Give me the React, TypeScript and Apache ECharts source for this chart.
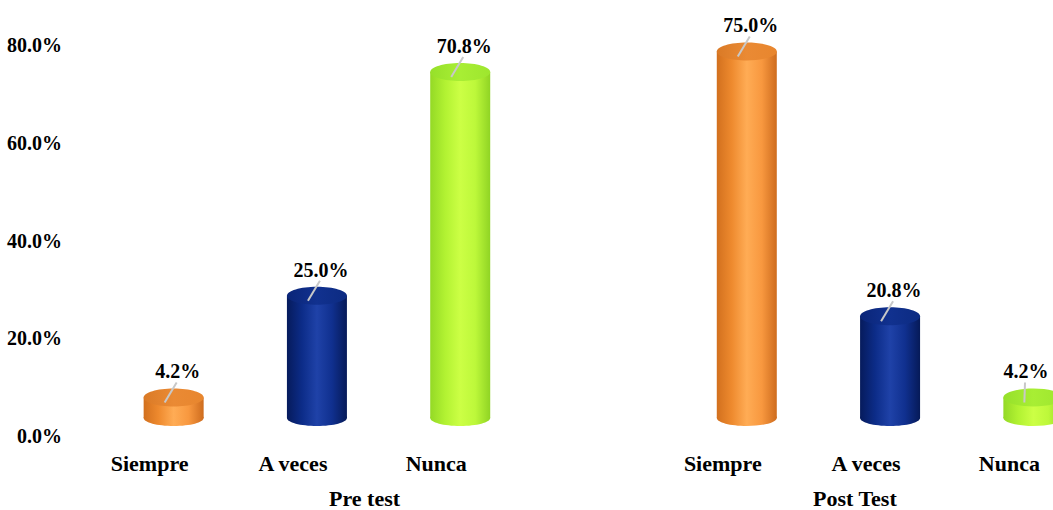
import React, { useEffect, useRef } from "react";
import * as echarts from "echarts";

const categories = ["Siempre", "A veces", "Nunca", "", "Siempre", "A veces", "Nunca"];
const groups = ["Pre test", "Post Test"];
const preTest = [4.2, 25.0, 70.8];
const postTest = [75.0, 20.8, 4.2];
const yTicks = [0, 20, 40, 60, 80];

const FONT = '"Liberation Serif", "Times New Roman", serif';
const VISIBLE_W = 1053;

const palette: Record<string, { body: string[]; top: string[] }> = {
  Siempre: {
    body: ["#D2701E", "#EE8A2E", "#FFAC55", "#F8983F", "#CE6C1E"],
    top: ["#DA7A26", "#EA8A34", "#E8862E"],
  },
  "A veces": {
    body: ["#061B5C", "#0C2C88", "#1F42A8", "#10308F", "#061A58"],
    top: ["#0A2578", "#11318F", "#0C2B82"],
  },
  Nunca: {
    body: ["#94D926", "#B2F232", "#CCFF45", "#BDF83A", "#90D424"],
    top: ["#96E02A", "#A8EE34", "#9EE62E"],
  },
};

function grad(cols: string[]) {
  const n = cols.length;
  return new echarts.graphic.LinearGradient(
    0, 0, 1, 0,
    cols.map((c, i) => ({ offset: i / (n - 1), color: c }))
  );
}

export default function App() {
  const ref = useRef<HTMLDivElement>(null);

  useEffect(() => {
    if (!ref.current) return;
    const chart = echarts.init(ref.current, null, { renderer: "svg" });

    const data: any[] = [];
    preTest.forEach((v, i) => data.push({ value: [i, v], cat: categories[i] }));
    postTest.forEach((v, i) => data.push({ value: [i + 4, v], cat: categories[i + 4] }));

    const DX = 24; // 3D depth shift
    const DY = 18;
    const RX = 30;
    const RY = 8;

    const option: any = {
      animation: false,
      backgroundColor: "#fff",
      grid: { left: 78, width: 1003, top: 45, height: 391 },
      xAxis: {
        type: "category",
        data: categories,
        axisLine: { show: false },
        axisTick: { show: false },
        axisLabel: {
          margin: 16,
          fontFamily: FONT,
          fontWeight: "bold",
          fontSize: 22,
          color: "#000",
          interval: 0,
        },
      },
      yAxis: {
        type: "value",
        min: yTicks[0],
        max: yTicks[yTicks.length - 1],
        interval: 20,
        splitLine: { show: false },
        axisLine: { show: false },
        axisTick: { show: false },
        axisLabel: {
          margin: 16,
          fontFamily: FONT,
          fontWeight: "bold",
          fontSize: 20,
          color: "#000",
          formatter: (v: number) => v.toFixed(1) + "%",
        },
      },
      series: [
        {
          type: "custom",
          data,
          clip: false,
          renderItem: (params: any, api: any) => {
            const idx = api.value(0);
            const v = api.value(1);
            const cat = categories[idx];
            const pal = palette[cat];
            const base = api.coord([idx, 0]);
            const topP = api.coord([idx, v]);
            const cx = base[0] + DX;
            const yb = base[1] - DY;
            const yt = topP[1] - DY;
            const l = cx - RX;
            const lx = Math.min(cx + 4, VISIBLE_W - 27);
            return {
              type: "group",
              children: [
                {
                  type: "ellipse",
                  shape: { cx, cy: yb, rx: RX, ry: RY },
                  style: { fill: grad(pal.body) },
                },
                {
                  type: "rect",
                  shape: { x: l, y: yt, width: RX * 2, height: yb - yt },
                  style: { fill: grad(pal.body) },
                },
                {
                  type: "ellipse",
                  shape: { cx, cy: yt, rx: RX, ry: RY + 1 },
                  style: { fill: grad(pal.top) },
                },
                {
                  type: "line",
                  shape: { x1: lx - 1, y1: yt - 15, x2: cx - 9, y2: yt + 5 },
                  style: { stroke: "#C8C8C8", lineWidth: 2 },
                },
                {
                  type: "text",
                  style: {
                    text: v.toFixed(1) + "%",
                    x: lx,
                    y: yt - 26,
                    align: "center",
                    verticalAlign: "middle",
                    fontFamily: FONT,
                    fontWeight: "bold",
                    fontSize: 20,
                    fill: "#000",
                  },
                },
              ],
            };
          },
        },
      ],
      graphic: [
        {
          type: "text",
          left: 366 - 37,
          top: 487,
          style: {
            text: groups[0],
            fontFamily: FONT,
            fontWeight: "bold",
            fontSize: 22,
            fill: "#000",
          },
        },
        {
          type: "text",
          left: 861 - 48,
          top: 487,
          style: {
            text: groups[1],
            fontFamily: FONT,
            fontWeight: "bold",
            fontSize: 22,
            fill: "#000",
          },
        },
      ],
    };

    chart.setOption(option);
    return () => chart.dispose();
  }, []);

  return (
    <div
      style={{
        position: "absolute",
        left: 0,
        top: 0,
        width: VISIBLE_W,
        height: 510,
        overflow: "hidden",
        background: "#fff",
      }}
    >
      <div ref={ref} style={{ width: 1100, height: 510 }} />
    </div>
  );
}
